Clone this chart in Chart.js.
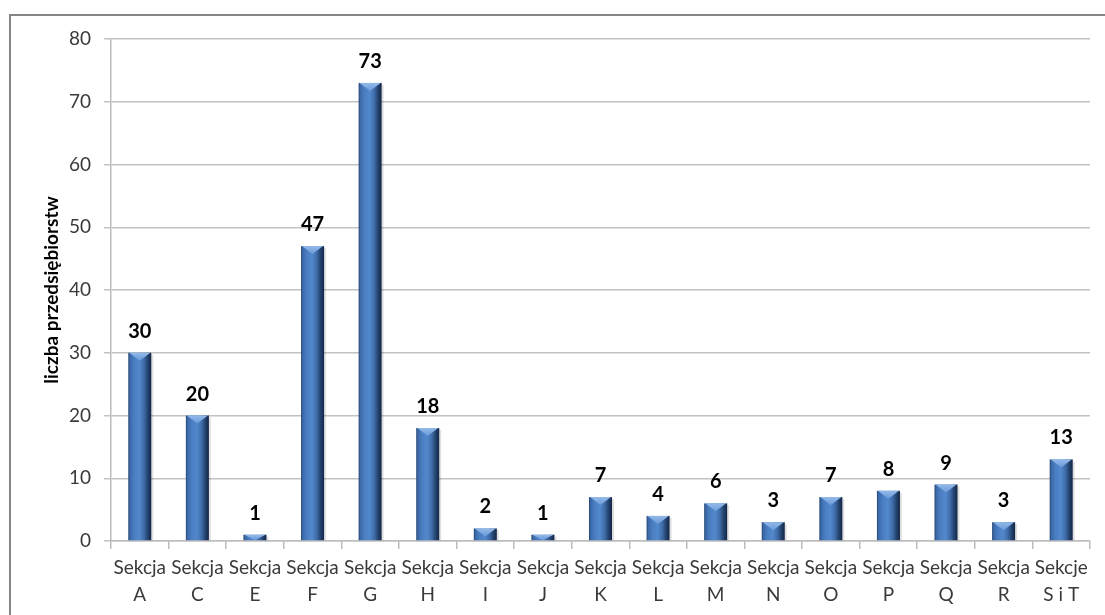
<!DOCTYPE html>
<html>
<head>
<meta charset="utf-8">
<script src="https://cdn.jsdelivr.net/npm/chart.js@4/dist/chart.umd.min.js"></script>
<style>
  html, body { margin: 0; padding: 0; background: #ffffff; }
  #wrap { width: 1105px; height: 615px; }
</style>
</head>
<body>
<div id="wrap"><canvas id="c" width="1105" height="615"></canvas></div>
<script>
const categories = [
  ["Sekcja", "A"], ["Sekcja", "C"], ["Sekcja", "E"], ["Sekcja", "F"], ["Sekcja", "G"],
  ["Sekcja", "H"], ["Sekcja", "I"], ["Sekcja", "J"], ["Sekcja", "K"], ["Sekcja", "L"],
  ["Sekcja", "M"], ["Sekcja", "N"], ["Sekcja", "O"], ["Sekcja", "P"], ["Sekcja", "Q"],
  ["Sekcja", "R"], ["Sekcje", "S i T"]
];
const values = [30, 20, 1, 47, 73, 18, 2, 1, 7, 4, 6, 3, 7, 8, 9, 3, 13];
const yTitle = "liczba przedsiębiorstw";
const yMin = 0, yMax = 80, yStep = 10;

const FONT = "Lato, 'Open Sans', 'DejaVu Sans', sans-serif";

const frame = {
  id: 'frame',
  beforeDraw(chart) {
    const ctx = chart.ctx;
    ctx.save();
    ctx.fillStyle = '#ffffff';
    ctx.fillRect(0, 0, chart.width, chart.height);
    ctx.strokeStyle = '#868686';
    ctx.lineWidth = 2;
    ctx.beginPath();
    ctx.moveTo(10, chart.height + 5);
    ctx.lineTo(10, 15);
    ctx.lineTo(chart.width + 5, 15);
    ctx.stroke();
    ctx.restore();
  }
};

const cylBars = {
  id: 'cylBars',
  afterDatasetsDraw(chart) {
    const ctx = chart.ctx;
    const meta = chart.getDatasetMeta(0);
    ctx.save();
    meta.data.forEach((bar, i) => {
      const p = bar.getProps(['x', 'y', 'base', 'width'], true);
      const l = p.x - p.width / 2, r = p.x + p.width / 2;
      const top = Math.min(p.y, p.base), bot = Math.max(p.y, p.base);
      const h = bot - top;
      // soft shadow on the right
      ctx.fillStyle = 'rgba(0,0,0,0.12)';
      ctx.fillRect(r, top + 2, 2, h - 2);
      const g = ctx.createLinearGradient(l, 0, r, 0);
      g.addColorStop(0, '#24436e');
      g.addColorStop(0.07, '#3b69a8');
      g.addColorStop(0.25, '#4a7ec2');
      g.addColorStop(0.48, '#5288cc');
      g.addColorStop(0.68, '#3f6ca9');
      g.addColorStop(0.86, '#22406a');
      g.addColorStop(1, '#132646');
      ctx.fillStyle = g;
      ctx.fillRect(l, top, p.width, h);
      // top bevel (lighter chevron)
      const d = Math.min(8, h);
      const g2 = ctx.createLinearGradient(0, top, 0, top + d);
      g2.addColorStop(0, '#93b9ea');
      g2.addColorStop(1, '#6a9ad8');
      ctx.fillStyle = g2;
      ctx.beginPath();
      ctx.moveTo(l + 1, top);
      ctx.lineTo(r - 1, top);
      ctx.lineTo(p.x, top + d);
      ctx.closePath();
      ctx.fill();
      // value label
      ctx.fillStyle = '#000000';
      ctx.font = "bold 20px " + FONT;
      ctx.textAlign = 'center';
      ctx.textBaseline = 'alphabetic';
      ctx.fillText(String(values[i]), p.x, top - 15);
    });
    ctx.restore();
  }
};

new Chart(document.getElementById('c'), {
  type: 'bar',
  data: {
    labels: categories,
    datasets: [{
      data: values,
      backgroundColor: 'rgba(0,0,0,0)',
      borderWidth: 0,
      barPercentage: 0.4,
      categoryPercentage: 1.0
    }]
  },
  options: {
    responsive: false,
    animation: false,
    layout: { padding: { left: 0, top: 39, right: 15, bottom: 0 } },
    plugins: {
      legend: { display: false },
      tooltip: { enabled: false }
    },
    scales: {
      x: {
        offset: true,
        grid: {
          offset: true,
          drawOnChartArea: false,
          drawTicks: true,
          tickLength: 8,
          color: '#bcbcbc',
          lineWidth: 1.5
        },
        border: { color: '#bcbcbc', width: 1.5 },
        ticks: {
          autoSkip: false,
          maxRotation: 0,
          minRotation: 0,
          padding: 6,
          color: '#3a3a3a',
          font: { family: FONT, size: 19, lineHeight: 1.4 }
        },
        afterFit(scale) { scale.height = 74; }
      },
      y: {
        min: yMin,
        max: yMax,
        grid: {
          color: '#c2c2c2',
          lineWidth: 1.5,
          tickLength: 7
        },
        border: { color: '#bcbcbc', width: 1.5 },
        ticks: {
          stepSize: yStep,
          padding: 13,
          color: '#3a3a3a',
          font: { family: FONT, size: 19 }
        },
        title: {
          display: true,
          text: yTitle,
          color: '#000000',
          font: { family: FONT, size: 19, weight: 'bold' },
          padding: { top: 40, bottom: 0 }
        },
        afterFit(scale) { scale.width = 111; }
      }
    }
  },
  plugins: [frame, cylBars]
});
</script>
</body>
</html>
